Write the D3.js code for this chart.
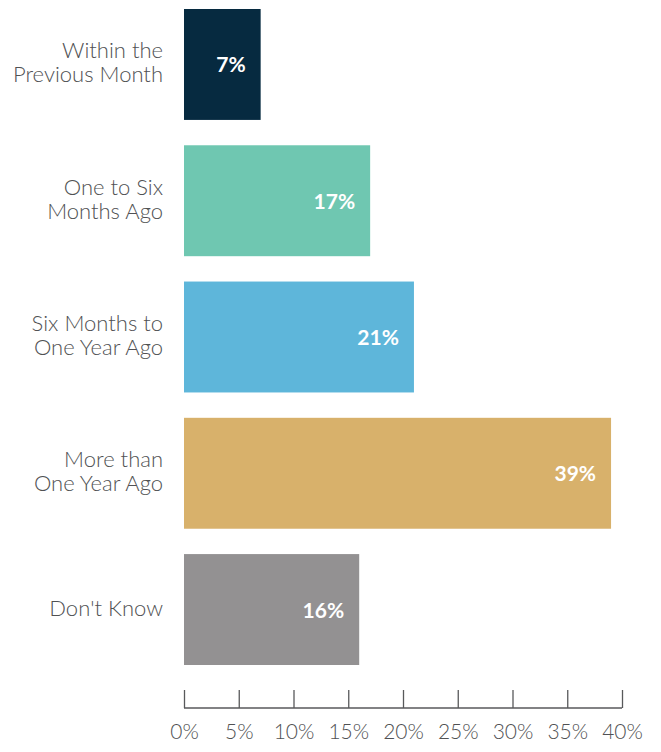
<!DOCTYPE html>
<html>
<head>
<meta charset="utf-8">
<script src="https://cdn.jsdelivr.net/npm/d3@7"></script>
<style>
  html, body { margin: 0; padding: 0; background: #fff; }
  svg { display: block; font-family: Lato, "Open Sans", sans-serif; }
  .cat-label { fill: #505153; font-size: 22px; font-weight: 300; }
  .value-label { fill: #fff; font-size: 21px; font-weight: 700; }
  .axis path, .axis line { stroke: #58595b; stroke-width: 1.3; }
  .axis text { fill: #505153; font-size: 21px; font-weight: 300; font-family: Lato, "Open Sans", sans-serif; }
</style>
</head>
<body>
<svg id="chart" width="661" height="752"></svg>
<script>
const categories = [
  ['Within the', 'Previous Month'],
  ['One to Six', 'Months Ago'],
  ['Six Months to', 'One Year Ago'],
  ['More than', 'One Year Ago'],
  ["Don't Know"]
];
const values = [7, 17, 21, 39, 16];
const colors = ['#062a40', '#6fc7b1', '#5eb6da', '#d8b16b', '#939192'];
const ticks = [0, 5, 10, 15, 20, 25, 30, 35, 40];

const data = values.map((v, i) => ({id: i, lines: categories[i], value: v, color: colors[i]}));

const svg = d3.select('#chart');

const x = d3.scaleLinear().domain([0, 40]).range([184, 622]);
const y = d3.scaleBand()
  .domain(data.map(d => d.id))
  .range([9, 665])
  .paddingInner(0.186)
  .paddingOuter(0);

// bars
svg.append('g').selectAll('rect')
  .data(data)
  .join('rect')
  .attr('x', x(0))
  .attr('y', d => y(d.id))
  .attr('width', d => x(d.value) - x(0))
  .attr('height', y.bandwidth())
  .attr('fill', d => d.color);

// value labels inside bar end
svg.append('g').selectAll('text')
  .data(data)
  .join('text')
  .attr('class', 'value-label')
  .attr('text-anchor', 'end')
  .attr('x', d => x(d.value) - 15)
  .attr('y', d => y(d.id) + y.bandwidth() / 2 + 8)
  .text(d => `${d.value}%`);

// category labels, multi-line
const lineH = 24;
const cats = svg.append('g').selectAll('text')
  .data(data)
  .join('text')
  .attr('class', 'cat-label')
  .attr('text-anchor', 'end');

cats.selectAll('tspan')
  .data(d => d.lines.map((t, i) => ({t, i, n: d.lines.length, id: d.id})))
  .join('tspan')
  .attr('x', 163)
  .attr('y', d => y(d.id) + y.bandwidth() / 2 + 6 + (d.i - (d.n - 1) / 2) * lineH)
  .text(d => d.t);

// x axis, ticks pointing up
const axis = svg.append('g')
  .attr('class', 'axis')
  .attr('transform', 'translate(0, 708)')
  .call(d3.axisBottom(x).tickValues(ticks).tickSize(-18).tickSizeOuter(0).tickFormat(d => `${d}%`));

axis.select('.domain').attr('d', `M${x(0)},0H${x(40)}`);
axis.selectAll('text').attr('y', 31).attr('dy', 0);
</script>
</body>
</html>
